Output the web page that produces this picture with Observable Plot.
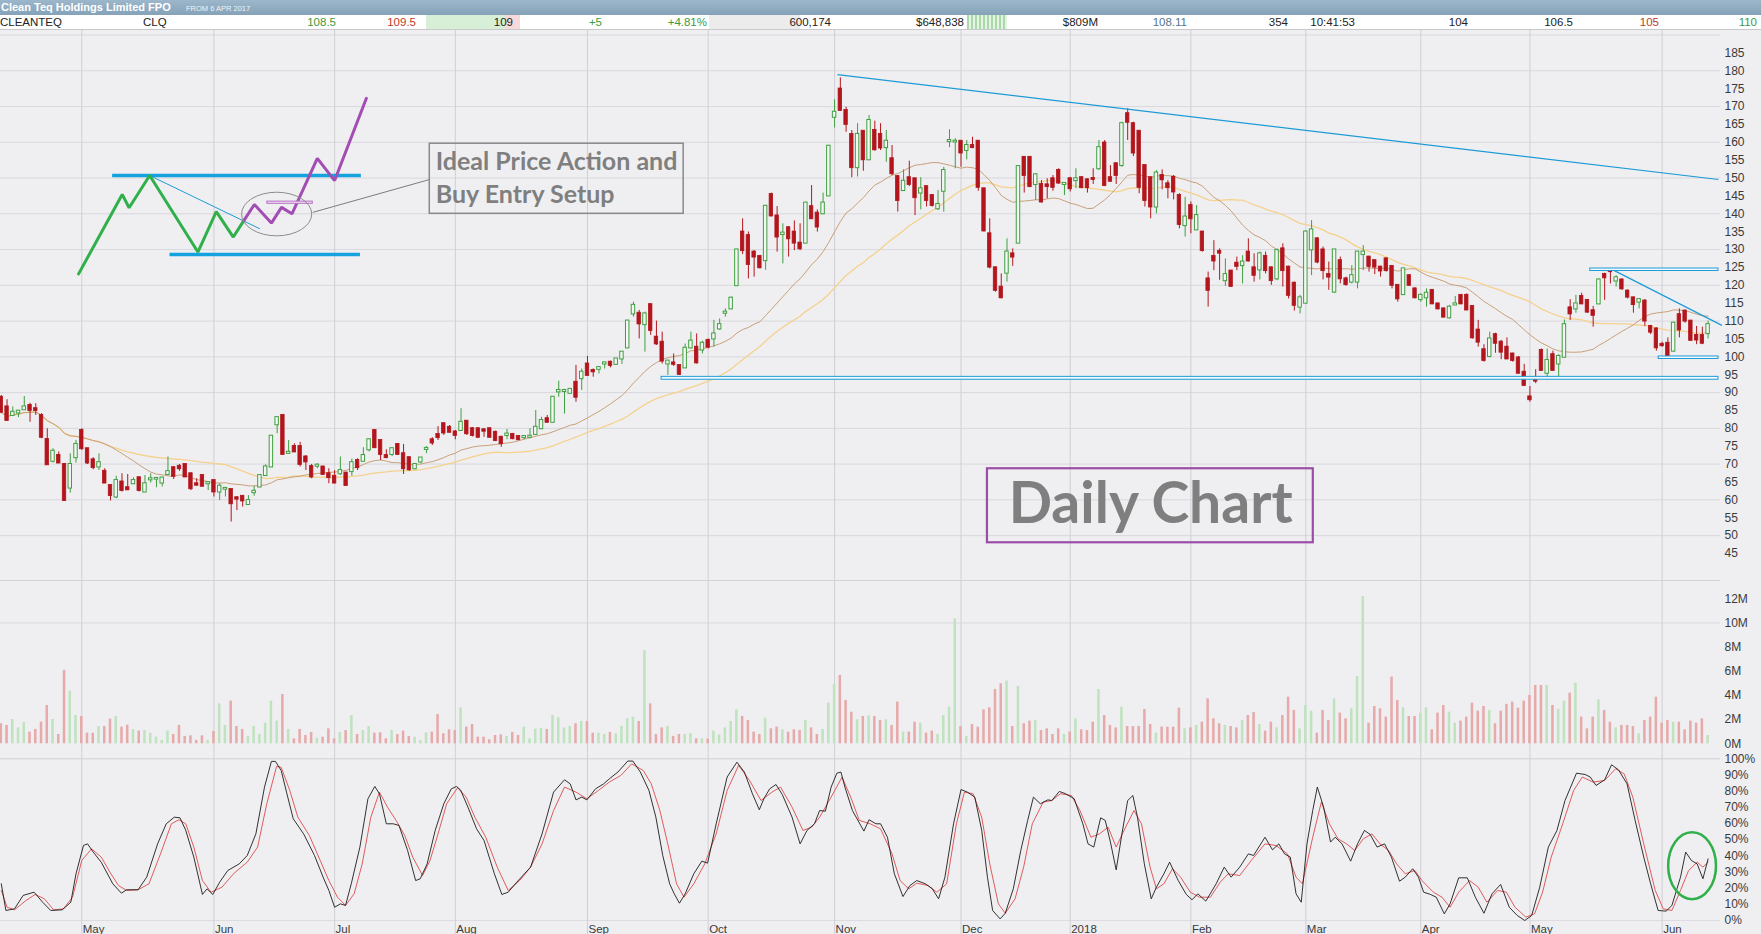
<!DOCTYPE html>
<html><head><meta charset="utf-8">
<script src="https://cdn.jsdelivr.net/npm/d3@7"></script>
<script src="https://cdn.jsdelivr.net/npm/@observablehq/plot@0.6"></script>
<style>
html,body{margin:0;padding:0;background:#efeff2;}
#wrap{position:relative;width:1761px;height:934px;overflow:hidden;background:#efeff2;}
#titlebar{position:absolute;left:0;top:0;width:1761px;height:15px;background:linear-gradient(#9cb7cb,#86a2b8);color:#fff;font-family:'Liberation Sans',Arial,sans-serif;white-space:nowrap;line-height:15px;}
#titlebar .t{position:absolute;left:1px;top:0;font-weight:bold;font-size:11px;}
#titlebar .s{position:absolute;left:186px;top:1px;font-size:7.5px;color:#eef3f7;}
#row{position:absolute;left:0;top:15px;width:1761px;height:14px;background:#fff;border-bottom:1px solid #c9c9cc;font-family:'Liberation Sans Narrow','Liberation Sans',Arial,sans-serif;font-size:11.5px;line-height:14px;color:#222;}
#row .c{position:absolute;top:0;white-space:nowrap;}
#row .bg{position:absolute;top:0;height:14px;}
.panel{position:absolute;left:0;}
.sep{position:absolute;left:0;width:1720px;height:1px;background:#d2d2d7;}
</style></head><body>
<div id="wrap">
  <div id="titlebar"><span class="t">Clean Teq Holdings Limited FPO</span><span class="s">FROM 6 APR 2017</span></div>
  <div id="row"></div>
  <div id="price" class="panel" style="top:30px"></div>
  <div class="sep" style="top:580px"></div>
  <div id="volume" class="panel" style="top:581px"></div>
  <div id="stoch" class="panel" style="top:758px"></div>
</div>
<script>
// ---------------- DATA ----------------
const open = [88.7,86.0,83.6,84.3,85.2,86.4,85.5,83.6,76.9,70.8,72.4,69.9,63.3,71.8,79.4,74.3,71.2,69.2,68.0,64.0,
60.8,65.0,63.4,64.5,66.2,62.2,65.6,65.8,64.7,67.1,69.0,69.4,69.9,67.3,64.5,66.8,64.5,65.4,62.2,63.0,
62.9,60.6,61.0,58.7,62.0,63.6,66.8,69.2,81.0,83.6,73.0,74.9,74.9,72.0,69.3,69.4,69.2,67.3,66.6,67.3,
67.5,67.9,71.0,70.8,74.0,79.4,76.6,72.4,72.7,75.5,72.9,71.8,68.7,70.6,74.1,76.8,78.3,81.3,80.3,79.0,
79.4,82.0,79.9,79.9,79.6,79.9,78.9,77.5,78.0,78.3,77.7,77.4,77.5,78.3,79.9,82.7,81.7,90.2,90.3,89.8,
92.9,93.9,98.0,96.2,96.5,98.0,98.5,97.9,99.4,102.5,112.0,112.2,109.0,114.6,105.5,104.1,98.0,98.3,97.6,96.9,
102.5,102.7,101.9,104.6,105.0,107.8,112.2,113.4,119.9,134.9,133.9,129.3,128.1,126.9,145.4,139.4,134.2,136.1,134.9,131.8,
131.8,142.0,140.2,140.0,145.0,167.0,174.9,168.9,162.2,152.9,163.1,155.1,163.3,162.2,158.5,155.4,150.4,146.5,150.1,149.8,
145.8,147.6,145.1,141.4,146.3,160.2,160.1,160.3,157.7,159.1,160.3,147.0,134.4,124.9,119.5,123.4,128.8,131.8,155.8,155.8,
148.2,148.2,148.1,149.8,152.1,148.2,149.8,149.3,150.1,149.5,149.9,152.6,159.8,150.1,154.0,153.5,168.0,165.2,163.1,153.5,
150.1,141.9,150.7,148.4,150.2,145.1,136.7,142.3,135.5,134.9,121.8,128.1,129.5,121.3,124.0,126.2,125.5,129.3,124.9,124.3,
128.1,124.9,121.8,130.2,125.1,120.6,113.9,115.0,129.9,133.0,129.9,123.0,118.1,126.9,121.8,120.9,120.9,128.6,127.9,126.9,
125.1,127.4,125.3,120.0,117.4,122.7,119.0,116.0,116.5,118.6,114.8,113.4,110.9,114.5,117.2,117.2,114.1,107.5,102.0,100.1,
106.2,104.1,102.7,100.8,99.7,95.7,88.8,93.6,101.8,95.4,100.6,98.0,99.9,113.7,113.4,116.9,115.8,112.9,114.8,123.0,
124.2,121.2,121.5,118.4,116.5,115.3,115.6,108.5,107.8,103.5,103.8,101.6,111.8,112.8,110.0,106.0,106.0,106.5];
const high = [89.2,88.0,86.0,85.0,88.9,87.0,86.9,84.1,79.9,74.3,73.4,70.1,72.9,76.6,79.9,74.3,71.8,72.9,68.7,64.0,
66.6,67.3,67.1,66.2,66.2,66.8,67.3,66.2,66.4,72.0,69.2,69.9,69.9,67.5,65.9,66.8,65.0,65.4,64.5,63.4,
62.9,60.8,61.0,61.2,63.8,66.8,69.8,77.8,83.1,83.9,76.6,75.7,76.1,72.4,69.9,70.1,69.3,68.7,68.2,72.0,
67.5,71.4,71.5,74.6,77.1,79.6,76.6,74.0,74.6,75.7,75.5,72.0,70.1,71.8,74.9,77.4,80.5,81.5,80.8,79.4,
85.5,82.2,80.2,80.0,79.9,80.0,79.2,77.8,79.7,78.6,77.9,78.0,79.9,85.0,83.1,83.6,88.9,93.2,90.8,91.0,
97.6,96.6,100.1,96.6,97.1,98.5,98.8,99.4,101.3,110.2,115.3,113.0,112.5,114.6,110.0,106.9,99.0,100.8,97.6,103.6,
106.9,106.4,104.4,105.0,110.2,110.6,113.4,116.7,129.9,138.6,134.9,129.7,128.3,142.3,145.8,142.0,137.2,136.4,138.0,137.2,
143.0,147.9,141.1,145.8,159.0,171.9,178.0,169.8,163.3,165.2,163.1,167.5,165.9,165.2,163.3,159.1,150.7,152.3,154.7,149.8,
150.1,147.6,145.1,146.5,153.0,163.5,161.0,160.3,160.5,161.4,160.5,147.0,138.6,125.1,123.2,133.0,130.2,153.5,156.0,156.0,
151.2,149.3,149.8,150.7,152.6,148.6,150.2,152.6,150.4,149.8,152.6,160.5,160.5,153.5,154.2,165.6,169.4,165.6,163.1,153.5,
150.2,152.1,152.3,149.3,150.7,145.6,144.6,143.3,142.3,135.1,123.7,132.5,130.2,127.4,124.1,127.9,128.3,133.0,128.8,129.3,
129.3,125.1,130.2,131.6,125.3,120.9,117.2,135.3,138.1,133.3,130.7,126.5,129.9,127.9,122.3,125.5,129.3,131.1,128.1,126.9,
125.3,127.7,125.5,120.0,124.6,123.0,119.3,117.6,119.0,118.7,115.0,113.7,114.4,116.9,117.4,117.6,114.1,110.2,103.4,106.9,
106.6,104.6,105.3,101.0,100.1,97.9,91.7,96.4,102.2,102.2,101.6,100.6,110.3,116.0,117.2,117.8,116.0,114.1,121.8,123.4,
124.6,122.7,121.8,118.7,116.7,116.2,116.0,108.8,108.1,104.1,105.3,109.7,113.4,113.1,110.2,108.5,108.3,110.0];
const low = [84.1,82.2,83.6,83.0,85.0,81.7,83.6,77.1,69.8,70.3,70.3,59.7,61.9,70.3,73.8,69.9,68.4,68.2,64.7,59.7,
60.3,62.2,62.6,64.3,62.2,62.2,64.7,63.4,63.6,66.8,65.7,68.0,66.4,62.6,63.8,63.8,62.6,60.8,59.8,60.8,
53.8,57.0,58.0,58.5,61.0,63.4,66.6,69.2,78.5,72.4,72.7,73.4,69.2,68.2,65.9,68.7,66.8,64.5,64.5,66.8,
63.8,66.6,68.2,70.6,73.4,74.3,71.0,71.5,72.1,72.4,67.1,68.0,68.4,70.1,72.9,75.2,76.6,78.0,78.7,76.8,
79.2,78.0,77.6,77.2,77.5,77.3,76.3,74.7,76.8,76.8,76.6,76.8,77.1,78.0,79.6,81.4,81.5,88.7,84.0,89.5,
87.3,90.6,94.8,94.3,95.2,96.6,96.9,97.6,97.9,102.3,111.1,105.0,101.3,106.0,103.2,98.0,94.8,97.3,94.8,96.9,
102.2,98.0,100.8,102.2,102.7,107.4,111.1,113.2,119.9,128.6,121.8,122.3,124.6,124.2,139.1,129.3,126.0,127.9,129.7,129.7,
131.8,138.6,134.9,139.8,144.9,164.0,168.7,162.8,150.1,150.3,151.9,154.9,157.5,157.7,154.4,150.7,140.5,146.3,147.6,139.5,
141.1,141.9,141.9,140.9,140.5,158.5,152.6,153.0,155.1,158.2,146.3,134.9,124.6,118.1,116.2,120.9,125.3,131.8,145.8,147.3,
143.7,143.0,144.2,146.3,148.2,145.1,146.1,147.0,147.0,145.8,148.2,152.1,147.6,148.9,148.2,153.0,160.5,156.0,145.6,141.9,
138.6,140.0,146.7,144.2,143.9,135.8,133.5,134.4,135.3,129.3,113.9,124.1,121.4,119.7,119.5,124.1,120.4,126.5,120.9,121.5,
123.2,120.0,121.3,119.5,116.2,112.8,112.0,114.8,122.7,126.0,121.5,118.6,117.8,120.4,119.7,120.4,119.0,124.1,123.7,123.0,
122.3,123.7,119.0,115.3,117.2,119.7,116.2,115.3,113.9,114.6,113.1,110.9,110.6,114.4,114.6,112.9,105.0,102.7,98.5,99.7,
101.0,99.2,99.2,98.5,95.3,91.7,87.3,92.5,96.0,93.4,96.0,94.5,99.7,110.2,112.2,114.6,112.2,108.3,114.6,115.8,
120.4,119.5,118.6,116.2,112.2,113.4,108.5,106.2,101.6,102.7,100.1,101.3,105.3,109.4,104.4,103.4,103.4,105.0];
const close = [84.5,82.2,84.5,84.8,86.0,85.0,85.0,77.5,69.8,73.6,70.3,59.8,69.9,75.5,74.3,70.3,69.0,70.4,64.7,61.2,
65.4,62.6,62.8,65.4,62.6,64.5,65.9,66.0,66.1,67.9,66.6,68.7,66.4,63.1,64.1,63.8,64.8,62.2,63.8,63.2,
58.9,60.2,59.7,59.8,62.4,66.8,69.2,77.8,83.0,72.7,73.3,73.4,69.9,70.6,66.4,69.7,67.1,66.2,64.7,68.2,
64.0,70.4,69.0,72.4,76.8,74.6,72.7,71.8,74.3,72.7,68.7,68.4,69.9,71.7,74.4,75.9,77.4,78.7,78.9,78.0,
81.7,78.5,78.0,77.5,79.2,77.5,76.6,75.7,78.4,77.1,76.8,77.7,77.8,80.3,82.2,81.7,88.7,90.6,90.6,90.9,
88.7,95.7,94.8,95.8,97.0,98.3,97.6,99.4,101.3,110.0,114.4,109.2,112.0,107.4,103.6,98.8,98.8,97.9,95.1,102.4,
104.4,98.3,103.8,102.7,106.4,109.0,112.5,116.4,129.9,129.7,125.8,127.9,124.9,142.1,139.4,133.5,134.6,133.0,131.8,130.2,
143.0,138.6,136.3,143.0,158.9,168.4,168.9,165.0,152.9,162.2,155.1,166.1,157.9,158.4,160.3,151.2,143.7,149.1,148.2,144.5,
147.0,143.7,142.3,142.6,152.1,160.5,160.3,157.0,159.1,158.5,147.4,135.2,125.1,118.6,116.5,129.3,127.9,153.2,150.7,147.6,
150.9,143.3,147.6,147.4,148.6,148.5,147.0,149.8,147.3,147.3,149.6,158.5,147.9,149.1,150.7,165.2,165.6,157.0,147.4,143.7,
141.9,151.4,149.5,147.3,146.1,137.0,139.1,138.6,139.5,129.7,118.6,126.8,129.0,123.0,119.7,125.3,126.5,126.8,122.8,128.8,
124.1,121.3,129.7,124.1,117.2,114.4,116.5,134.9,135.5,126.5,124.1,122.3,129.9,121.8,120.2,122.7,129.3,129.3,125.3,125.1,
124.0,124.1,120.0,116.2,124.6,120.0,116.5,117.2,117.8,114.8,113.4,111.1,113.9,114.8,114.8,113.1,105.3,104.1,99.0,105.0,
103.8,101.3,99.4,99.0,95.4,92.0,88.0,93.2,96.2,99.0,96.2,100.1,109.0,112.0,114.8,114.8,112.5,111.6,121.5,122.1,
123.8,122.1,119.0,116.7,114.6,116.0,110.0,106.9,102.5,103.1,100.1,109.4,107.5,110.0,104.6,104.7,103.8,109.0];
// volume in millions of shares
const volume = [1.66,1.52,2.01,1.32,1.77,0.97,1.19,1.79,3.17,2.01,0.77,6.07,4.36,2.34,2.26,0.88,0.88,1.43,1.43,2.04,
2.26,1.38,1.54,1.19,1.05,1.10,0.88,0.55,0.28,1.05,0.77,1.52,0.61,0.66,0.28,0.66,0.28,1.02,3.31,1.52,
3.53,1.43,1.19,0.61,1.43,0.77,1.71,3.53,1.88,4.08,1.19,0.41,1.19,0.69,0.94,0.47,0.55,1.24,0.41,0.94,
1.10,2.34,0.77,1.10,1.43,0.88,0.91,0.41,1.10,0.77,1.05,0.61,0.55,0.28,0.91,0.97,2.43,0.83,1.16,1.10,
2.98,1.38,1.60,0.55,0.55,0.33,0.69,0.74,0.61,0.94,0.69,1.38,0.41,1.21,1.27,1.19,2.34,2.15,1.32,1.43,
1.66,1.85,1.85,0.88,0.88,0.77,0.94,0.83,1.43,2.07,2.21,1.85,7.72,3.31,0.77,1.32,1.43,0.61,0.77,0.77,
0.83,0.41,0.41,0.39,1.05,0.74,1.32,1.85,2.81,2.26,1.93,0.97,0.77,2.12,1.24,1.38,1.16,0.97,1.16,1.10,
1.93,1.32,0.77,1.19,3.37,4.91,5.66,3.59,2.62,1.99,2.26,2.32,2.26,
1.93,1.99,1.52,3.45,0.97,0.97,1.79,1.71,0.88,1.05,0.77,2.34,3.03,10.34,1.43,0.61,1.60,1.38,2.81,2.98,
4.50,4.97,5.19,1.43,4.74,1.66,1.88,1.93,1.10,1.24,0.77,1.24,0.77,0.97,2.07,1.16,1.10,1.79,4.50,2.34,
1.52,1.32,3.03,1.43,1.43,1.43,2.84,1.60,0.88,1.38,1.38,1.38,2.95,1.24,1.32,1.52,1.79,3.72,2.07,1.66,
1.52,1.43,1.32,1.93,2.34,2.59,1.60,1.05,1.79,1.32,2.34,3.86,2.76,1.24,3.17,2.70,0.88,2.76,1.93,3.72,
2.54,2.07,2.90,5.57,12.19,1.71,3.09,2.90,2.21,5.52,3.59,2.98,2.26,2.26,2.54,2.98,1.16,2.54,3.17,2.62,
1.71,1.88,2.21,3.37,2.70,3.09,2.76,1.66,2.70,3.26,3.45,2.95,3.53,4.00,4.83,4.83,4.83,3.17,2.84,3.53,
4.19,5.02,2.21,1.24,2.21,3.64,2.76,1.79,1.32,1.52,1.52,1.43,0.83,1.93,2.21,3.86,1.71,1.93,1.79,1.79,
1.16,1.88,1.71,2.07,0.69];
// stochastic %K and %D: [trading-day index, percent]
const stochK = [[0,22.7],[0.8,6.2],[2.3,7.2],[3.8,15.5],[5.7,17.5],[7.2,11.3],[8.6,6.2],[10.6,6.6],[12.1,11.3],[13.0,28.9],[14.3,46.4],[15.0,47.4],[16.0,42.3],[17.4,36.0],[19.4,22.7],[20.9,16.9],[21.8,19.0],[23.8,19.0],[25.3,26.8],[27.2,47.4],[28.7,59.8],[30.1,63.9],[31.1,63.5],[32.1,55.7],[33.5,39.2],[35.0,16.1],[35.8,19.6],[36.8,16.1],[38.0,23.7],[39.4,30.9],[41.4,35.0],[42.8,40.2],[44.3,53.6],[45.8,82.5],[47.0,98.4],[47.7,98.4],[48.7,92.8],[49.7,78.4],[50.8,62.9],[52.6,53.6],[54.5,40.2],[56.0,26.8],[57.0,18.6],[58.0,8.2],[59.0,10.3],[59.9,9.3],[60.9,22.7],[62.4,45.4],[63.8,75.3],[65.0,82.9],[65.8,78.4],[67.0,59.8],[68.2,59.8],[69.2,58.8],[70.7,43.3],[72.1,24.7],[72.9,25.8],[74.1,35.0],[75.5,55.7],[77.0,72.2],[78.3,81.4],[79.2,82.9],[79.9,80.8],[81.2,70.1],[82.7,56.7],[84.0,49.5],[85.8,28.9],[87.1,16.1],[88.2,17.5],[89.7,23.7],[92.1,33.0],[94.1,53.6],[96.1,79.4],[98.0,87.0],[99.0,84.5],[100.0,74.6],[101.0,76.3],[101.9,74.6],[103.4,81.4],[104.8,84.5],[105.8,87.6],[107.3,91.8],[109.0,98.6],[109.9,98.6],[111.2,91.8],[112.7,80.4],[113.9,63.9],[115.1,40.2],[116.3,22.7],[117.1,16.5],[118.0,10.7],[119.0,16.5],[120.5,28.9],[121.9,36.7],[122.9,35.5],[124.4,59.8],[126.3,88.7],[128.0,97.9],[129.3,91.8],[130.7,78.4],[131.9,68.5],[132.7,75.3],[133.7,81.4],[134.8,84.1],[135.9,77.9],[137.6,63.9],[139.0,47.4],[140.2,55.7],[141.5,59.8],[142.4,68.0],[143.4,67.6],[144.4,82.5],[145.4,91.1],[146.1,91.8],[146.8,82.5],[148.1,68.0],[150.1,55.3],[151.0,62.3],[152.2,59.8],[153.0,59.8],[154.2,51.5],[155.4,28.9],[156.9,14.8],[158.1,21.6],[159.3,24.7],[160.8,22.7],[162.0,19.6],[163.1,13.4],[164.2,26.8],[165.7,59.8],[167.0,81.0],[168.1,79.4],[169.4,76.3],[170.6,55.7],[171.6,26.8],[172.5,6.2],[173.8,1.0],[174.7,4.5],[176.1,19.6],[177.4,43.3],[178.6,61.9],[179.6,76.3],[180.8,72.2],[182.1,74.6],[182.8,74.2],[184.1,79.8],[185.2,78.4],[186.7,75.3],[188.2,59.8],[189.1,47.4],[190.1,45.4],[191.3,63.5],[192.1,61.9],[193.0,48.5],[194.0,31.3],[195.0,53.6],[196.0,74.2],[196.9,77.3],[197.7,63.9],[198.9,35.0],[200.1,13.4],[201.0,20.6],[202.3,28.9],[203.3,36.1],[204.8,24.7],[206.2,16.1],[207.2,12.8],[208.2,16.5],[209.6,12.0],[211.4,22.7],[212.8,33.0],[214.0,26.8],[215.5,33.0],[217.0,41.2],[217.9,40.2],[219.9,51.5],[221.2,43.7],[222.3,47.4],[223.3,41.2],[224.3,39.2],[225.3,16.5],[226.2,11.3],[227.2,47.4],[228.2,68.0],[229.0,82.5],[230.1,70.1],[231.3,48.5],[232.1,51.5],[233.3,47.4],[234.8,36.7],[236.0,47.4],[237.2,55.7],[238.2,53.2],[239.4,45.4],[240.7,47.4],[241.9,39.2],[243.3,24.3],[244.3,26.8],[245.6,32.0],[246.6,26.8],[247.5,17.5],[248.7,16.1],[249.7,14.4],[251.1,4.1],[252.1,10.3],[253.6,26.4],[255.1,26.4],[256.5,14.4],[258.0,4.5],[259.4,16.5],[260.9,22.3],[262.4,8.2],[263.8,3.1],[265.1,0],[266.3,3.1],[267.7,20.6],[269.2,45.4],[270.7,55.7],[272.1,74.2],[274.1,91.1],[275.6,90.3],[276.5,88.7],[277.5,83.5],[279.0,87.0],[280.2,96.3],[281.4,93.2],[282.9,84.5],[284.3,61.9],[285.8,39.2],[287.0,22.7],[288.3,6.2],[289.7,5.8],[290.7,9.3],[292.2,26.8],[293.1,42.3],[294.1,37.1],[295.1,35.0],[296.1,25.8],[297.0,38.1]];
const stochD = [[0,18.6],[1.0,8.2],[2.3,6.6],[4.3,12.4],[5.9,16.1],[7.5,13.4],[9.1,6.6],[10.8,7.2],[12.4,14.4],[14.0,37.1],[15.7,44.3],[17.4,39.2],[18.9,29.9],[20.4,21.6],[21.8,18.6],[23.8,19.0],[25.7,22.7],[27.7,41.2],[29.6,59.8],[30.9,62.3],[32.1,59.8],[33.5,45.4],[35.0,24.7],[36.5,17.5],[38.4,20.6],[40.4,28.9],[42.8,36.1],[44.6,45.4],[46.2,72.2],[47.9,95.3],[48.7,94.8],[50.2,80.4],[51.6,63.9],[53.6,52.6],[55.5,37.1],[57.0,24.7],[58.5,14.4],[59.9,9.3],[61.4,16.5],[62.8,35.0],[64.3,63.9],[65.8,79.4],[67.2,70.1],[68.7,61.9],[70.2,52.6],[71.6,39.2],[73.3,27.8],[74.6,37.1],[76.0,53.6],[77.5,72.2],[79.4,82.1],[80.9,76.3],[82.4,63.9],[84.3,51.5],[86.3,33.0],[88.2,18.6],[90.2,24.7],[92.1,33.0],[94.1,47.4],[96.1,68.0],[98.0,82.5],[100.0,79.4],[101.9,75.3],[103.9,80.4],[105.8,85.6],[107.8,89.7],[109.7,96.9],[111.7,92.8],[113.1,84.5],[114.6,68.0],[116.1,45.4],[117.5,22.7],[118.8,14.4],[120.5,22.7],[122.4,35.0],[124.4,53.6],[126.3,80.4],[128.3,95.9],[130.2,86.6],[132.2,74.2],[134.1,79.4],[135.6,82.5],[137.6,70.1],[139.5,55.7],[141.0,57.7],[142.4,63.9],[144.4,76.3],[146.3,88.7],[147.8,76.3],[149.3,61.9],[151.2,59.8],[153.0,56.7],[155.0,41.2],[156.4,24.7],[157.9,19.6],[159.3,23.1],[161.3,21.6],[162.8,17.5],[164.5,22.7],[166.2,59.8],[167.6,79.4],[169.1,78.4],[170.6,63.9],[172.0,35.0],[173.5,10.3],[174.7,4.5],[176.4,13.4],[177.9,33.0],[179.4,59.8],[181.3,73.2],[182.8,74.2],[184.3,78.4],[186.2,77.3],[187.7,68.0],[189.6,51.5],[191.1,53.6],[192.6,57.7],[194.0,45.4],[195.5,56.7],[197.1,68.0],[198.4,59.8],[199.9,33.0],[201.0,19.6],[202.3,22.7],[203.8,32.0],[205.2,26.8],[206.9,17.5],[208.5,14.4],[210.4,14.4],[212.1,23.7],[213.5,28.9],[215.5,27.8],[217.5,37.1],[219.9,47.4],[221.8,46.4],[223.8,41.2],[225.3,26.8],[226.4,22.7],[228.2,51.5],[229.7,73.2],[231.1,59.8],[232.6,50.5],[234.1,47.4],[235.5,43.3],[237.0,50.5],[238.5,53.6],[239.9,47.4],[241.4,43.3],[242.8,35.0],[244.3,28.9],[246.0,30.9],[247.2,24.7],[249.2,17.5],[250.7,14.4],[252.1,8.2],[253.6,17.5],[255.5,24.7],[257.0,20.6],[258.5,11.3],[260.4,18.6],[261.9,17.5],[263.4,8.2],[265.3,2.1],[266.8,4.1],[268.2,17.5],[269.7,39.2],[271.7,59.8],[273.6,80.4],[275.1,88.7],[277.0,85.6],[279.0,86.6],[280.9,93.8],[282.4,90.7],[283.9,76.3],[285.8,47.4],[287.8,18.6],[289.2,7.2],[290.7,6.2],[292.2,18.6],[293.6,30.9],[295.1,36.1],[296.1,33.0],[297.0,36.1]];

// month labels: [first trading-day index, label]
const monthTicks = [[14,"May"],[37,"Jun"],[58,"Jul"],[79,"Aug"],[102,"Sep"],[123,"Oct"],[145,"Nov"],[167,"Dec"],[186,"2018"],[207,"Feb"],[227,"Mar"],[247,"Apr"],[266,"May"],[289,"Jun"]];
const priceTicks = [45,50,55,60,65,70,75,80,85,90,95,100,105,110,115,120,125,130,135,140,145,150,155,160,165,170,175,180,185];
const priceGrid = [50,60,70,80,90,100,110,120,130,140,150,160,170,180,190];
const volTicks = [0,2,4,6,8,10,12];
const stochTicks = [0,10,20,30,40,50,60,70,80,90,100];
const maPeriods = [20, 40];

// drawn trend lines and support/resistance bands (index, price)
const trendLines = [{x1:145.5,y1:178.9,x2:298.8,y2:149.6},{x1:280.1,y1:124.6,x2:299.4,y2:108.8}];
const bands = [{x1:114.9,x2:298.8,y1:93.6,y2:94.4},{x1:276.5,x2:298.8,y1:124.0,y2:124.7},{x1:288.4,x2:298.8,y1:99.4,y2:100.1}];
// "ideal price action" sketch
const sketchGreen = [[13.45,123.2],[21.04,145.4],[22.24,141.7],[25.82,150.7],[34.21,129.3],[37.41,140.6],[40.37,133.5],[42.2,138.1]];
const sketchPurple = [[42.2,138.1],[44.04,142.6],[47.0,137.4],[48.76,141.8],[50.58,140.0],[54.99,155.5],[58.0,149.3],[63.53,172.3]];
const sketchBars = [{x1:19.28,x2:62.57,y:150.7},{x1:29.27,x2:62.41,y:128.6}];
const sketchThin = [{x1:25.82,y1:150.7,x2:45.0,y2:135.8}];
const sketchBox = [{x1:46.3,x2:54.2,y1:142.8,y2:143.4}];
const sketchEllipse = {cx:48.0,cy:139.8,rx:6.1,ry:6.1};
const connector = [{x1:54.19,y1:140.4,x2:74.56,y2:149.6}];
const noteBox = [{x1:74.56,x2:118.74,y1:140.0,y2:159.6}];
const noteLines = [{t:"Ideal Price Action and",x:75.6,y:154.6},{t:"Buy Entry Setup",x:75.6,y:145.3}];
const dailyBox = [{x1:171.6,x2:228.3,y1:48.0,y2:68.7}];
const dailyText = [{t:"Daily Chart",x:200.0,y:58.6}];
const stochEllipse = {cx:294.3,cy:33.6,rx:4.16,ry:20.7};

const headerCells = [
 {t:"CLEANTEQ",left:0},{t:"CLQ",left:143},
 {t:"108.5",right:336,c:"#3d9a3d"},{t:"109.5",right:416,c:"#c0392b"},
 {t:"109",right:513},{t:"+5",right:602,c:"#3d9a3d"},{t:"+4.81%",right:707,c:"#3d9a3d"},
 {t:"600,174",right:831},{t:"$648,838",right:964},{t:"$809M",right:1098},
 {t:"108.11",right:1187,c:"#56758c"},{t:"354",right:1288},{t:"10:41:53",right:1355},
 {t:"104",right:1468},{t:"106.5",right:1573},{t:"105",right:1659,c:"#c0392b"},{t:"110",right:1757,c:"#3d9a3d"}
];

// ---------------- HEADER ----------------
const row = document.getElementById("row");
[[426,79,"#d7efd7"],[505,15,"#f7d9d9"],[709,91,"#ececec"],[967,40,"repeating-linear-gradient(90deg,#a9d9a9 0 2px,#e4f3e4 2px 4px)"]].forEach(([l,w,bg])=>{
  const d=document.createElement("div"); d.className="bg"; d.style.left=l+"px"; d.style.width=w+"px"; d.style.background=bg; row.appendChild(d);
});
headerCells.forEach(h=>{
  const s=document.createElement("span"); s.className="c"; s.textContent=h.t;
  if (h.left!==undefined) s.style.left=h.left+"px"; else s.style.right=(1761-h.right)+"px";
  if (h.c) s.style.color=h.c;
  row.appendChild(s);
});

// ---------------- CHART ----------------
const candles = close.map((c,i)=>({i, open:open[i], high:high[i], low:low[i], close:c, vol:volume[i]}));
const up = candles.filter(d=>d.close>=d.open), down = candles.filter(d=>d.close<d.open);
const GREEN="#3f9f3f", RED="#b3151c", BLUE="#1d9bd6";
const AXISFONT="'Liberation Sans Narrow','Liberation Sans',Arial,sans-serif";
const NOTEFONT="Lato,'Open Sans',sans-serif";
const X = {domain:[0,297], range:[0.8,1707.6], axis:null};
const baseStyle = {background:"transparent", overflow:"visible", fontFamily:AXISFONT, fontSize:"12px", color:"#3a3a3a"};
const monthRule = Plot.ruleX(monthTicks, {x:d=>d[0], stroke:"#cfcfd5", strokeWidth:1});

const pricePlot = Plot.plot({
  width:1761, height:550, marginLeft:0, marginRight:41, marginTop:0, marginBottom:0,
  x:X, y:{domain:[45,185], range:[523.0,22.4], axis:null},
  style:baseStyle,
  marks:[
    Plot.ruleY(priceGrid, {stroke:"#d8d8dd"}),
    monthRule,
    Plot.axisY(priceTicks, {anchor:"right", tickSize:0, tickPadding:4, label:null, fill:"#3a3a3a"}),
    Plot.lineY(candles, Plot.windowY({k:maPeriods[1], anchor:"end", reduce:"mean"}, {x:"i", y:"close", stroke:"#f5d18c", strokeWidth:1.3})),
    Plot.lineY(candles, Plot.windowY({k:maPeriods[0], anchor:"end", reduce:"mean"}, {x:"i", y:"close", stroke:"#c9a077", strokeWidth:1})),
    Plot.ruleX(up, {x:"i", y1:"low", y2:"high", stroke:GREEN, strokeWidth:1}),
    Plot.ruleX(down, {x:"i", y1:"low", y2:"high", stroke:RED, strokeWidth:1}),
    Plot.rect(up, {x1:d=>d.i-0.3, x2:d=>d.i+0.3, y1:"open", y2:"close", fill:"#f5f7f5", stroke:GREEN, strokeWidth:1, insetTop:-0.5, insetBottom:-0.5}),
    Plot.rect(down, {x1:d=>d.i-0.3, x2:d=>d.i+0.3, y1:"open", y2:"close", fill:RED, stroke:RED, strokeWidth:0.8, insetTop:-0.5, insetBottom:-0.5}),
    // trend lines and bands
    Plot.link(trendLines, {x1:"x1", y1:"y1", x2:"x2", y2:"y2", stroke:BLUE, strokeWidth:1.2}),
    Plot.rect(bands, {x1:"x1", x2:"x2", y1:"y1", y2:"y2", fill:"#f4fbfe", stroke:BLUE, strokeWidth:1}),
    // sketch
    Plot.link(sketchBars, {x1:"x1", x2:"x2", y1:"y", y2:"y", stroke:"#14a3df", strokeWidth:3.6}),
    Plot.link(sketchThin, {x1:"x1", y1:"y1", x2:"x2", y2:"y2", stroke:BLUE, strokeWidth:1}),
    Plot.line(sketchGreen, {x:d=>d[0], y:d=>d[1], stroke:"#2fb04a", strokeWidth:3, strokeLinejoin:"miter"}),
    Plot.line(sketchPurple, {x:d=>d[0], y:d=>d[1], stroke:"#a24db3", strokeWidth:3, strokeLinejoin:"miter"}),
    Plot.rect(sketchBox, {x1:"x1", x2:"x2", y1:"y1", y2:"y2", fill:"#f3e8f5", stroke:"#b46cc2", strokeWidth:1}),
    Plot.link(connector, {x1:"x1", y1:"y1", x2:"x2", y2:"y2", stroke:"#7d7d7d", strokeWidth:1}),
    Plot.rect(noteBox, {x1:"x1", x2:"x2", y1:"y1", y2:"y2", fill:"none", stroke:"#8a8a8a", strokeWidth:1.5}),
    Plot.text(noteLines, {x:"x", y:"y", text:"t", textAnchor:"start", lineAnchor:"middle", fill:"#7f7f7f", fontSize:25, fontWeight:"bold", fontFamily:NOTEFONT}),
    Plot.rect(dailyBox, {x1:"x1", x2:"x2", y1:"y1", y2:"y2", fill:"none", stroke:"#9a4ea6", strokeWidth:2.2}),
    Plot.text(dailyText, {x:"x", y:"y", text:"t", textAnchor:"middle", lineAnchor:"middle", fill:"#7f7f7f", fontSize:57, fontWeight:"bold", fontFamily:NOTEFONT})
  ]
});

function addEllipse(plot, e, stroke, sw){
  const sx = plot.scale("x"), sy = plot.scale("y");
  const fx = d3.scaleLinear(sx.domain, sx.range), fy = d3.scaleLinear(sy.domain, sy.range);
  const cx = fx(e.cx), cy = fy(e.cy);
  d3.select(plot).append("ellipse")
    .attr("cx", cx).attr("cy", cy)
    .attr("rx", Math.abs(fx(e.cx+e.rx)-cx)).attr("ry", Math.abs(fy(e.cy+e.ry)-cy))
    .attr("fill","none").attr("stroke",stroke).attr("stroke-width",sw);
}
addEllipse(pricePlot, sketchEllipse, "#8c8c8c", 1);
document.getElementById("price").appendChild(pricePlot);

const volPlot = Plot.plot({
  width:1761, height:177, marginLeft:0, marginRight:41, marginTop:0, marginBottom:0,
  x:X, y:{domain:[0,12], range:[162.3,17.3], axis:null},
  style:baseStyle,
  marks:[
    Plot.ruleY([10], {stroke:"#d8d8dd"}),
    monthRule,
    Plot.axisY(volTicks, {anchor:"right", tickSize:0, tickPadding:4, label:null, tickFormat:d=>d+"M", fill:"#3a3a3a"}),
    Plot.rect(up, {x1:d=>d.i-0.22, x2:d=>d.i+0.22, y1:0, y2:"vol", fill:"#bfe2bf"}),
    Plot.rect(down, {x1:d=>d.i-0.22, x2:d=>d.i+0.22, y1:0, y2:"vol", fill:"#e6aaaa"})
  ]
});
document.getElementById("volume").appendChild(volPlot);

const stochPlot = Plot.plot({
  width:1761, height:176, marginLeft:0, marginRight:41, marginTop:0, marginBottom:0,
  x:X, y:{domain:[0,100], range:[162,0.3], axis:null},
  style:baseStyle,
  marks:[
    Plot.ruleY([100], {stroke:"#cfcfd4"}),
    Plot.ruleY([0], {stroke:"#dcdce0"}),
    monthRule,
    Plot.axisY(stochTicks, {anchor:"right", tickSize:0, tickPadding:4, label:null, tickFormat:d=>d+"%", fill:"#3a3a3a"}),
    Plot.line(stochD, {x:d=>d[0], y:d=>d[1], stroke:"#de4b4b", strokeWidth:0.9}),
    Plot.line(stochK, {x:d=>d[0], y:d=>d[1], stroke:"#1c1c1c", strokeWidth:0.9}),
    Plot.text(monthTicks, {x:d=>d[0], text:d=>d[1], frameAnchor:"bottom", textAnchor:"start", lineAnchor:"bottom", dx:1, dy:-2, fill:"#3a3a3a", fontSize:11.5})
  ]
});
addEllipse(stochPlot, stochEllipse, "#2fb04a", 2.5);
document.getElementById("stoch").appendChild(stochPlot);
</script>
</body></html>
